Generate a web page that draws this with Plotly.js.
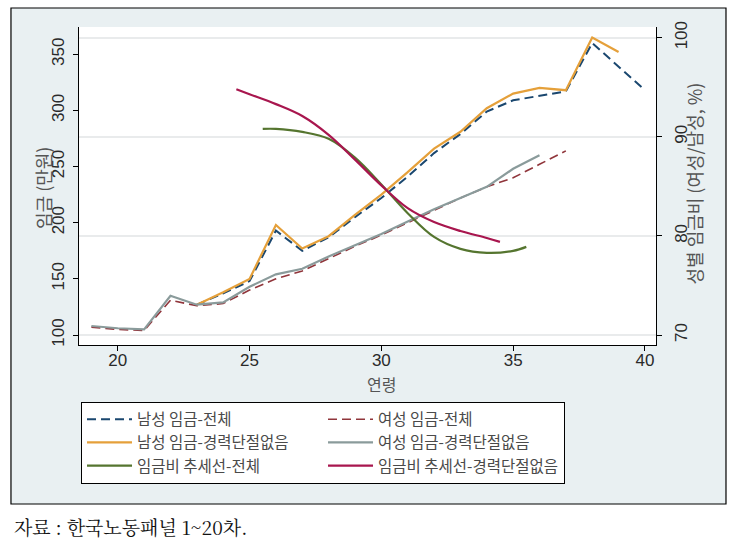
<!DOCTYPE html>
<html>
<head>
<meta charset="utf-8">
<script src="https://cdn.plot.ly/plotly-3.0.1.min.js"></script>
<style>html,body{margin:0;padding:0;background:#fff;}#chart{width:748px;height:555px;}</style>
</head>
<body>
<div id="chart"></div>
<script>
// ---- data ----
const femaleAges = [19,20,21,22,23,24,25,26,27,28,29,30,31,32,33,34,35,36];
const femaleNoBreak = [108,106,105,135,127,129,143,154,159,170,180,190,201,212,222,232,248,260];
const femaleTotalAges = [19,20,21,22,23,24,25,26,27,28,29,30,31,32,33,34,35,36,37];
const femaleTotal = [107,105,104,131,126,128,140,150,157,168,179,189,200,211,222,232,240,252,264];
const maleNoBreakAges = [23,24,25,26,27,28,29,30,31,32,33,34,35,36,37,38,39];
const maleNoBreak = [127,138,150,198,177,188,207,225,245,266,281,302,315,320,318,365,352];
const maleTotalAges = [23,24,25,26,27,28,29,30,31,32,33,34,35,36,37,38,39,40];
const maleTotal = [127,137,148,193,175,187,205,222,241,262,279,299,309,313,317,360,339,318];
const ratioNoBreakAges = [24.5,25,26,27,28,29,30,31,32,33,34,34.5];
const ratioNoBreak = [94.8,94.3,93.3,92.1,90.2,87.7,85.1,82.8,81.4,80.5,79.8,79.4];
const ratioTotalAges = [25.5,26,27,28,29,30,31,32,33,34,35,35.5];
const ratioTotal = [90.8,90.8,90.5,89.8,87.9,85.2,82.3,79.9,78.7,78.3,78.5,78.9];

const seriesNames = ['남성 임금-전체','여성 임금-전체','남성 임금-경력단절없음','여성 임금-경력단절없음','임금비 추세선-전체','임금비 추세선-경력단절없음'];
const xTicks = [20,25,30,35,40];
const yTicks = [100,150,200,250,300,350];
const y2Ticks = [70,80,90,100];

const tickFont = {family:'Liberation Sans, Arial, sans-serif', size:17, color:'#2a2a2a'};
const kFont = 'Noto Sans CJK KR, sans-serif';

const traces = [
  {x:maleTotalAges, y:maleTotal, name:seriesNames[0], mode:'lines', line:{color:'#1a476f', width:2, dash:'9px,5px'}},
  {x:femaleTotalAges, y:femaleTotal, name:seriesNames[1], mode:'lines', line:{color:'#90353b', width:1.6, dash:'9px,5px'}},
  {x:maleNoBreakAges, y:maleNoBreak, name:seriesNames[2], mode:'lines', line:{color:'#e5a03a', width:2.2}},
  {x:femaleAges, y:femaleNoBreak, name:seriesNames[3], mode:'lines', line:{color:'#8a9b9b', width:2.2}},
  {x:ratioTotalAges, y:ratioTotal, name:seriesNames[4], mode:'lines', yaxis:'y2', line:{color:'#55752f', width:2.2, shape:'spline'}},
  {x:ratioNoBreakAges, y:ratioNoBreak, name:seriesNames[5], mode:'lines', yaxis:'y2', line:{color:'#a8164e', width:2.2, shape:'spline'}}
];

const layout = {
  width:748, height:555,
  margin:{l:79, r:92, t:27, b:210, autoexpand:false},
  paper_bgcolor:'#ffffff', plot_bgcolor:'#ffffff',
  showlegend:true,
  xaxis:{range:[18.53,40.42], tickvals:xTicks, ticks:'outside', ticklen:5, tickcolor:'#000', ticklabelstandoff:-5,
         showline:true, linecolor:'#000', linewidth:1, showgrid:false, zeroline:false, tickfont:tickFont},
  yaxis:{range:[91.1,374.3], tickvals:yTicks, ticks:'outside', ticklen:5, tickcolor:'#000', tickangle:-90,
         ticklabelstandoff:2,
         showline:true, linecolor:'#000', linewidth:1, showgrid:false, zeroline:false, tickfont:tickFont},
  yaxis2:{range:[69.0,101.08], tickvals:y2Ticks, overlaying:'y', side:'right', ticks:'outside', ticklen:5,
          tickcolor:'#000', tickangle:-90, ticklabelstandoff:5,
          showline:true, linecolor:'#000', linewidth:1, showgrid:true, gridcolor:'#e9ebec', gridwidth:2,
          zeroline:false, tickfont:tickFont},
  legend:{orientation:'h', x:0.0035, xanchor:'left', y:-0.1783, yanchor:'top',
          entrywidth:181, entrywidthmode:'pixels', itemwidth:45,
          bgcolor:'#ffffff', bordercolor:'#000', borderwidth:1, traceorder:'normal',
          font:{family:kFont, size:15.5, color:'#4a4a4a'}},
  shapes:[
    {type:'rect', xref:'paper', yref:'paper', x0:-0.1179, x1:1.1213, y0:-0.5, y1:1.0597,
     fillcolor:'#e9f0f2', line:{color:'#000', width:1.2}, layer:'below'},
    {type:'rect', xref:'paper', yref:'paper', x0:0, x1:1, y0:0, y1:1,
     fillcolor:'#ffffff', line:{width:0}, layer:'below'}
  ],
  annotations:[
    {text:'연령', xref:'paper', yref:'paper', x:0.5234, y:-0.1226, xanchor:'center', yanchor:'middle',
     showarrow:false, font:{family:kFont, size:16, color:'#555'}},
    {text:'임금 (만원)', xref:'paper', yref:'paper', x:-0.0624, y:0.4937, xanchor:'center', yanchor:'middle',
     textangle:-90, showarrow:false, font:{family:kFont, size:18, color:'#555'}},
    {text:'성별 임금비 (여성/남성, %)', xref:'paper', yref:'paper', x:1.0659, y:0.5079, xanchor:'center', yanchor:'middle',
     textangle:-90, showarrow:false, font:{family:kFont, size:18, color:'#555'}},
    {text:'자료 : 한국노동패널 1~20차.', xref:'paper', yref:'paper', x:-0.1161, y:-0.5723, xanchor:'left', yanchor:'middle',
     showarrow:false, font:{family:"'Noto Serif CJK KR', 'Liberation Serif', 'Noto Sans CJK KR', serif", size:19, color:'#111'}}
  ]
};

Plotly.newPlot('chart', traces, layout, {displayModeBar:false, staticPlot:true});
</script>
</body>
</html>
